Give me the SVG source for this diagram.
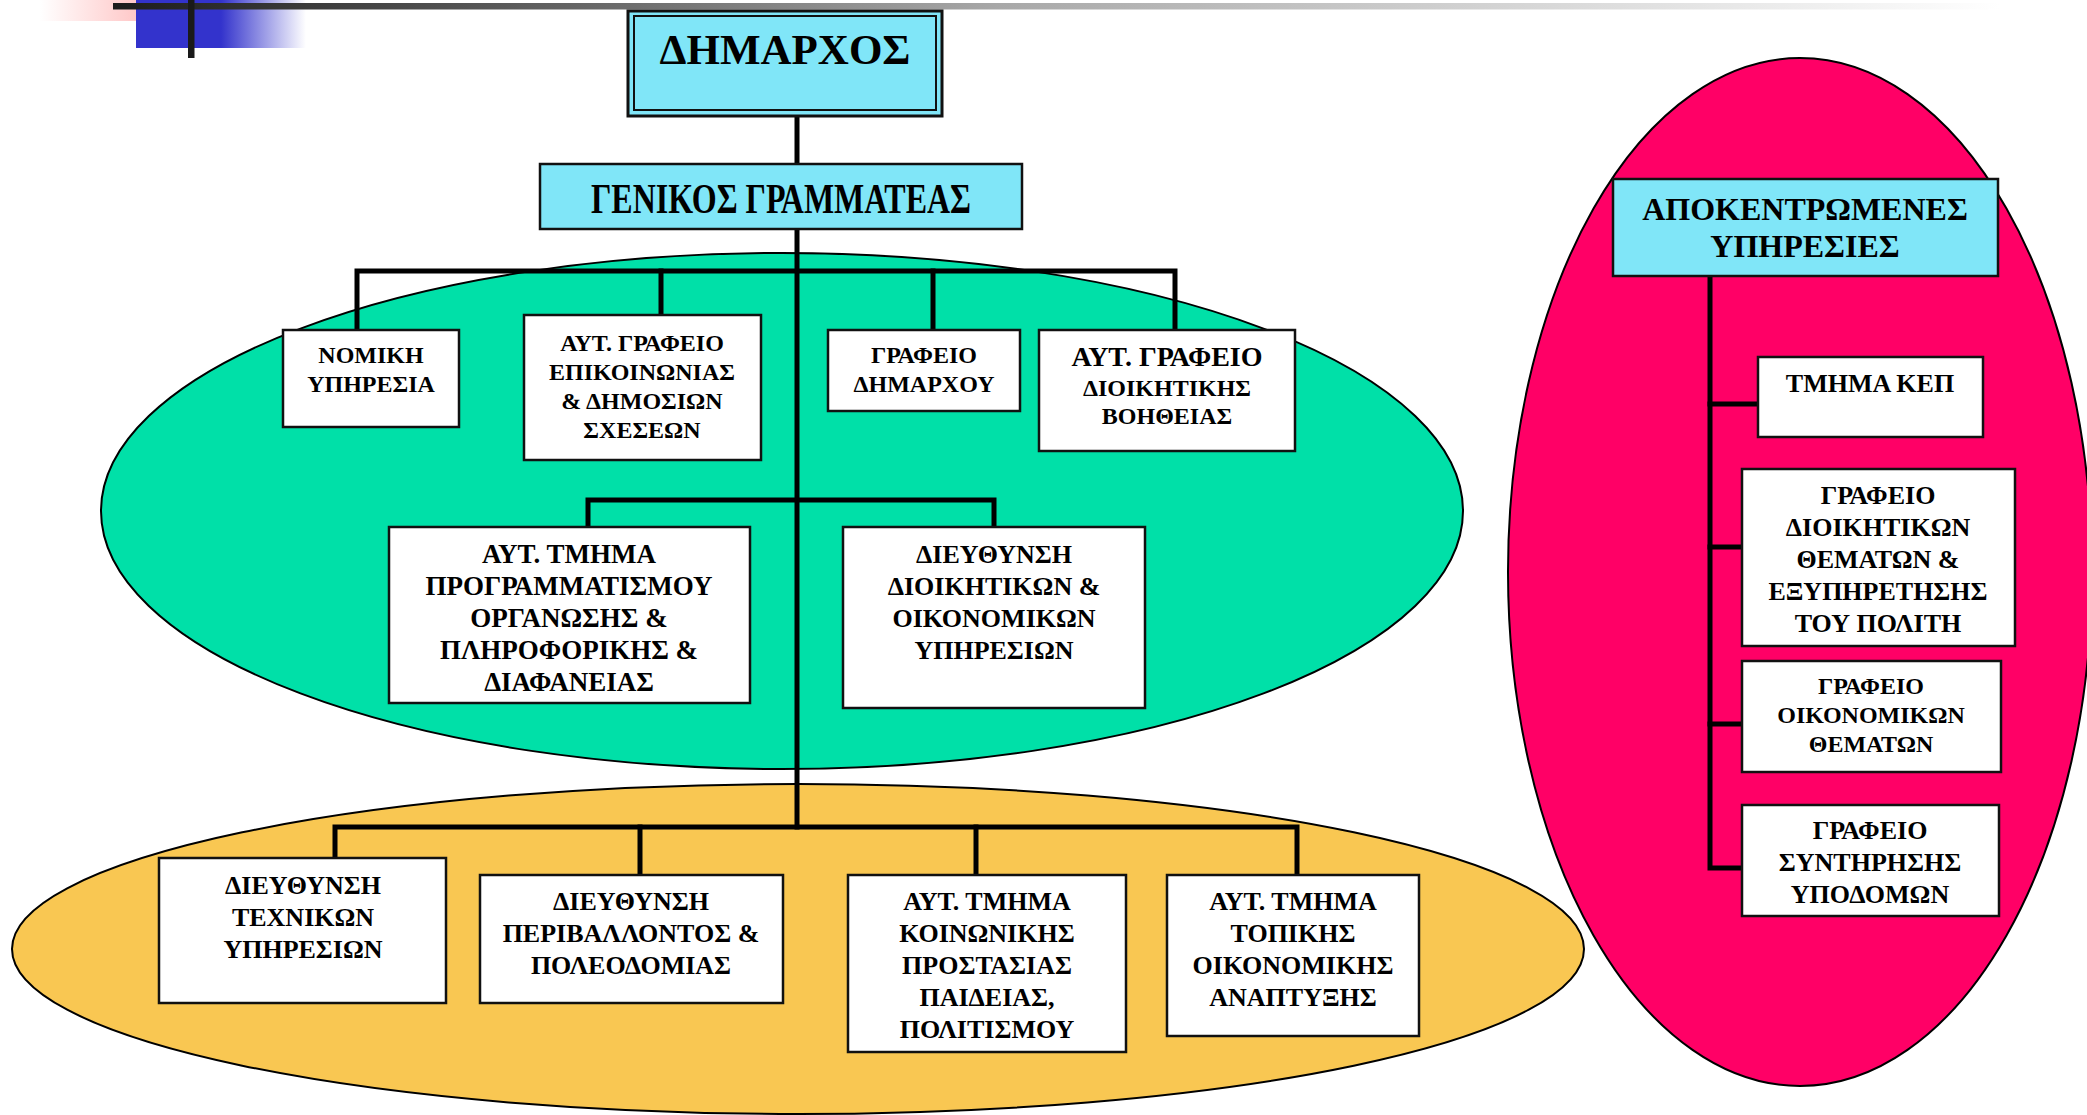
<svg xmlns="http://www.w3.org/2000/svg" width="2087" height="1115" viewBox="0 0 2087 1115">
<defs>
<linearGradient id="gBar" x1="113" y1="0" x2="2000" y2="0" gradientUnits="userSpaceOnUse">
<stop offset="0" stop-color="#1c1c1c"/><stop offset="0.47" stop-color="#a8a8a8"/><stop offset="1" stop-color="#ffffff"/>
</linearGradient>
<linearGradient id="gPink" x1="40" y1="0" x2="172" y2="0" gradientUnits="userSpaceOnUse">
<stop offset="0" stop-color="#ffffff"/><stop offset="1" stop-color="#ffb4b4"/>
</linearGradient>
<linearGradient id="gBlue" x1="136" y1="0" x2="306" y2="0" gradientUnits="userSpaceOnUse">
<stop offset="0" stop-color="#3333cc"/><stop offset="0.5" stop-color="#3333cc"/><stop offset="1" stop-color="#ffffff"/>
</linearGradient>
<style>
.box{fill:#ffffff;stroke:#111;stroke-width:2.5}
.cyan{fill:#80e6f8;stroke:#111;stroke-width:2.5}
.ln{stroke:#000;stroke-width:5;fill:none;stroke-linecap:square}
.ell{stroke:#000;stroke-width:2}
text{font-family:"Liberation Serif","Times New Roman",serif;font-weight:bold;fill:#000;text-anchor:middle}
.t24{font-size:24px}
.t26{font-size:26px}
.t27{font-size:27px}
.t32{font-size:32px}
</style>
</defs>
<rect width="2087" height="1115" fill="#ffffff"/>
<!-- decoration -->
<rect x="40" y="0" width="132" height="21" fill="url(#gPink)"/>
<rect x="136" y="0" width="170" height="48" fill="url(#gBlue)"/>
<rect x="113" y="3" width="1887" height="6.5" fill="url(#gBar)"/>
<rect x="188" y="0" width="6.5" height="58" fill="#1a1a1a"/>
<!-- regions -->
<ellipse class="ell" cx="782" cy="511" rx="681" ry="258" fill="#00e0a8"/>
<ellipse class="ell" cx="798" cy="949" rx="786" ry="165" fill="#f9c752"/>
<ellipse class="ell" cx="1800" cy="572" rx="292" ry="514" fill="#ff0066"/>
<g id="connectors">
<path class="ln" d="M797 116 V827"/>
<path class="ln" d="M357 330 V271 H1175 V330"/>
<path class="ln" d="M661 271 V315"/>
<path class="ln" d="M933 271 V330"/>
<path class="ln" d="M588 527 V500 H994 V527"/>
<path class="ln" d="M335 858 V827 H1297 V875"/>
<path class="ln" d="M640 827 V875"/>
<path class="ln" d="M976 827 V875"/>
<path class="ln" d="M1710 276 V868 H1742"/>
<path class="ln" d="M1710 404 H1758"/>
<path class="ln" d="M1710 547 H1742"/>
<path class="ln" d="M1710 724 H1742"/>
</g>
<g id="n-dimarchos">
<rect x="628" y="11" width="314" height="105" fill="#80e6f8" stroke="#111" stroke-width="3"/>
<rect x="634" y="16" width="302" height="94" fill="none" stroke="#111" stroke-width="2"/>
<text x="785" y="64" style="font-size:43px">ΔΗΜΑΡΧΟΣ</text>
</g>
<g id="n-genikos">
<rect class="cyan" x="540" y="164" width="482" height="65"/>
<text class="t32" transform="translate(781 213) scale(1 1.3)" x="0" y="0">ΓΕΝΙΚΟΣ ΓΡΑΜΜΑΤΕΑΣ</text>
</g>
<g id="n-nomiki">
<rect class="box" x="283" y="330" width="176" height="97"/>
<text class="t24"><tspan x="371" y="363">ΝΟΜΙΚΗ</tspan><tspan x="371" y="392">ΥΠΗΡΕΣΙΑ</tspan></text>
</g>
<g id="n-epikoinonias">
<rect class="box" x="524" y="315" width="237" height="145"/>
<text class="t24"><tspan x="642" y="351">ΑΥΤ. ΓΡΑΦΕΙΟ</tspan><tspan x="642" y="380">ΕΠΙΚΟΙΝΩΝΙΑΣ</tspan><tspan x="642" y="409">&amp; ΔΗΜΟΣΙΩΝ</tspan><tspan x="642" y="438">ΣΧΕΣΕΩΝ</tspan></text>
</g>
<g id="n-grafeio-dimarchou">
<rect class="box" x="828" y="330" width="192" height="81"/>
<text class="t24"><tspan x="924" y="363">ΓΡΑΦΕΙΟ</tspan><tspan x="924" y="392">ΔΗΜΑΡΧΟΥ</tspan></text>
</g>
<g id="n-dioikitikis-voitheias">
<rect class="box" x="1039" y="330" width="256" height="121"/>
<text class="t24"><tspan x="1167" y="366" style="font-size:28px">ΑΥΤ. ΓΡΑΦΕΙΟ</tspan><tspan x="1167" y="396">ΔΙΟΙΚΗΤΙΚΗΣ</tspan><tspan x="1167" y="424">ΒΟΗΘΕΙΑΣ</tspan></text>
</g>
<g id="n-programmatismou">
<rect class="box" x="389" y="527" width="361" height="176"/>
<text class="t27"><tspan x="569" y="563">ΑΥΤ. ΤΜΗΜΑ</tspan><tspan x="569" y="595">ΠΡΟΓΡΑΜΜΑΤΙΣΜΟΥ</tspan><tspan x="569" y="627">ΟΡΓΑΝΩΣΗΣ &amp;</tspan><tspan x="569" y="659">ΠΛΗΡΟΦΟΡΙΚΗΣ &amp;</tspan><tspan x="569" y="691">ΔΙΑΦΑΝΕΙΑΣ</tspan></text>
</g>
<g id="n-dioikitikon-oikonomikon">
<rect class="box" x="843" y="527" width="302" height="181"/>
<text class="t26"><tspan x="994" y="563">ΔΙΕΥΘΥΝΣΗ</tspan><tspan x="994" y="595">ΔΙΟΙΚΗΤΙΚΩΝ &amp;</tspan><tspan x="994" y="627">ΟΙΚΟΝΟΜΙΚΩΝ</tspan><tspan x="994" y="659">ΥΠΗΡΕΣΙΩΝ</tspan></text>
</g>
<g id="n-technikon">
<rect class="box" x="159" y="858" width="287" height="145"/>
<text class="t26"><tspan x="303" y="894">ΔΙΕΥΘΥΝΣΗ</tspan><tspan x="303" y="926">ΤΕΧΝΙΚΩΝ</tspan><tspan x="303" y="958">ΥΠΗΡΕΣΙΩΝ</tspan></text>
</g>
<g id="n-perivallontos">
<rect class="box" x="480" y="875" width="303" height="128"/>
<text class="t26"><tspan x="631" y="910">ΔΙΕΥΘΥΝΣΗ</tspan><tspan x="631" y="942">ΠΕΡΙΒΑΛΛΟΝΤΟΣ &amp;</tspan><tspan x="631" y="974">ΠΟΛΕΟΔΟΜΙΑΣ</tspan></text>
</g>
<g id="n-koinonikis">
<rect class="box" x="848" y="875" width="278" height="177"/>
<text class="t26"><tspan x="987" y="910">ΑΥΤ. ΤΜΗΜΑ</tspan><tspan x="987" y="942">ΚΟΙΝΩΝΙΚΗΣ</tspan><tspan x="987" y="974">ΠΡΟΣΤΑΣΙΑΣ</tspan><tspan x="987" y="1006">ΠΑΙΔΕΙΑΣ,</tspan><tspan x="987" y="1038">ΠΟΛΙΤΙΣΜΟΥ</tspan></text>
</g>
<g id="n-topikis">
<rect class="box" x="1167" y="875" width="252" height="161"/>
<text class="t26"><tspan x="1293" y="910">ΑΥΤ. ΤΜΗΜΑ</tspan><tspan x="1293" y="942">ΤΟΠΙΚΗΣ</tspan><tspan x="1293" y="974">ΟΙΚΟΝΟΜΙΚΗΣ</tspan><tspan x="1293" y="1006">ΑΝΑΠΤΥΞΗΣ</tspan></text>
</g>
<g id="n-apokentromenes">
<rect class="cyan" x="1613" y="179" width="385" height="97"/>
<text class="t32"><tspan x="1805" y="220">ΑΠΟΚΕΝΤΡΩΜΕΝΕΣ</tspan><tspan x="1805" y="257">ΥΠΗΡΕΣΙΕΣ</tspan></text>
</g>
<g id="n-kep">
<rect class="box" x="1758" y="357" width="225" height="80"/>
<text class="t26" x="1870" y="392">ΤΜΗΜΑ ΚΕΠ</text>
</g>
<g id="n-dioikitikon-thematon">
<rect class="box" x="1742" y="469" width="273" height="177"/>
<text class="t26"><tspan x="1878" y="504">ΓΡΑΦΕΙΟ</tspan><tspan x="1878" y="536">ΔΙΟΙΚΗΤΙΚΩΝ</tspan><tspan x="1878" y="568">ΘΕΜΑΤΩΝ &amp;</tspan><tspan x="1878" y="600">ΕΞΥΠΗΡΕΤΗΣΗΣ</tspan><tspan x="1878" y="632">ΤΟΥ ΠΟΛΙΤΗ</tspan></text>
</g>
<g id="n-oikonomikon-thematon">
<rect class="box" x="1742" y="661" width="259" height="111"/>
<text class="t24"><tspan x="1871" y="694">ΓΡΑΦΕΙΟ</tspan><tspan x="1871" y="723">ΟΙΚΟΝΟΜΙΚΩΝ</tspan><tspan x="1871" y="752">ΘΕΜΑΤΩΝ</tspan></text>
</g>
<g id="n-syntirisis">
<rect class="box" x="1742" y="805" width="257" height="111"/>
<text class="t26"><tspan x="1870" y="839">ΓΡΑΦΕΙΟ</tspan><tspan x="1870" y="871">ΣΥΝΤΗΡΗΣΗΣ</tspan><tspan x="1870" y="903">ΥΠΟΔΟΜΩΝ</tspan></text>
</g>
</svg>
